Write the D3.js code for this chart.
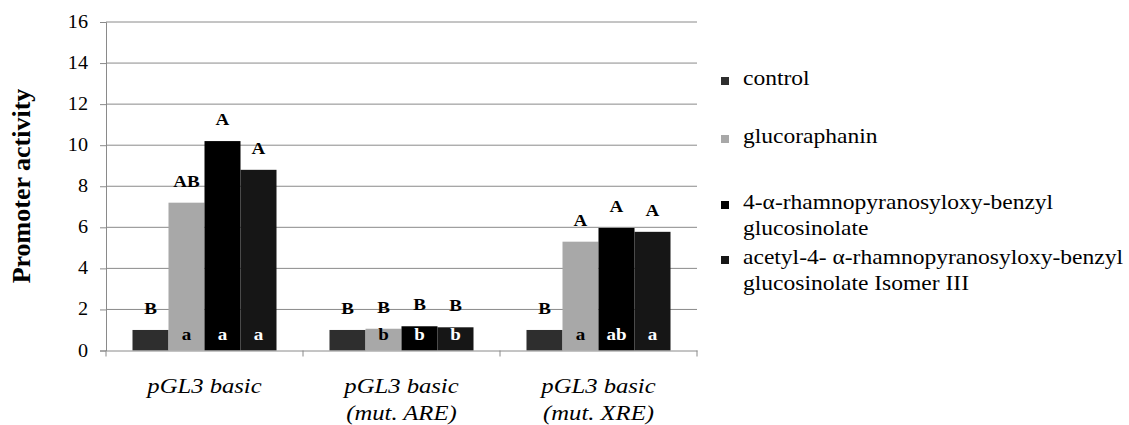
<!DOCTYPE html>
<html>
<head>
<meta charset="utf-8">
<script src="https://cdn.jsdelivr.net/npm/d3@7"></script>
<style>
  body { margin: 0; background: #fff; }
</style>
</head>
<body>
<div id="chart"></div>
<script>
const categories = [["pGL3 basic"], ["pGL3 basic", "(mut. ARE)"], ["pGL3 basic", "(mut. XRE)"]];
const series = ["control", "glucoraphanin", "4-α-rhamnopyranosyloxy-benzyl glucosinolate", "acetyl-4- α-rhamnopyranosyloxy-benzyl glucosinolate Isomer III"];
const legendLines = [["control"], ["glucoraphanin"], ["4-α-rhamnopyranosyloxy-benzyl", "glucosinolate"], ["acetyl-4-  α-rhamnopyranosyloxy-benzyl", "glucosinolate  Isomer III"]];
const colors = ["#2e2e2e", "#a8a8a8", "#000000", "#161616"];
const values = [
  [1.0, 7.2, 10.2, 8.8],
  [1.0, 1.06, 1.18, 1.13],
  [1.0, 5.3, 5.97, 5.78]
];
const upperLetters = [
  ["B", "AB", "A", "A"],
  ["B", "B", "B", "B"],
  ["B", "A", "A", "A"]
];
const lowerLetters = [
  ["", "a", "a", "a"],
  ["", "b", "b", "b"],
  ["", "a", "ab", "a"]
];
const yTicks = [0, 2, 4, 6, 8, 10, 12, 14, 16];

const serif = "'Liberation Serif', 'Times New Roman', serif";
const margin = {top: 22, right: 432, bottom: 74.5, left: 106};
const W = 1129, H = 425;
const width = W - margin.left - margin.right,
      height = H - margin.top - margin.bottom;
const sx = 1.12; // text in the picture is slightly wide

const svg = d3.select("#chart").append("svg")
    .attr("width", W).attr("height", H);
const g = svg.append("g")
    .attr("transform", `translate(${margin.left},${margin.top})`);

const x0 = d3.scaleBand().domain(d3.range(categories.length)).range([0, width]).padding(0);
const x1 = d3.scaleBand().domain(d3.range(series.length)).range([0, x0.bandwidth()])
    .paddingInner(0).paddingOuter(0.736);
const y = d3.scaleLinear().domain([0, 16]).range([height, 0]);

const stretchList = [];
function label(parent, x, yy, txt, size, anchor, maxW) {
  const t = parent.append("text")
    .attr("x", x).attr("y", yy)
    .attr("text-anchor", anchor || "start")
    .style("font-family", serif)
    .style("font-size", size + "px")
    .attr("fill", "#000")
    .text(txt);
  stretchList.push([t, maxW || Infinity]);
  return t;
}

// gridlines
g.selectAll(".grid").data(yTicks.filter(d => d > 0)).enter()
  .append("line")
  .attr("x1", 0).attr("x2", width)
  .attr("y1", d => y(d)).attr("y2", d => y(d))
  .attr("stroke", "#8a8a8a").attr("stroke-width", 1);

// y axis
const yAxis = d3.axisLeft(y).tickValues(yTicks).tickSize(6).tickFormat("");
const gy = g.append("g").call(yAxis);
gy.select(".domain").attr("stroke", "#8a8a8a");
gy.selectAll(".tick line").attr("stroke", "#8a8a8a");
yTicks.forEach(t => label(g, -18, y(t) + 6, t, 18, "end"));

// bars
const groups = g.selectAll(".grp").data(values).enter()
  .append("g").attr("transform", (d, i) => `translate(${x0(i)},0)`);

groups.selectAll("rect").data(d => d).enter()
  .append("rect")
  .attr("x", (d, j) => x1(j))
  .attr("y", d => y(d))
  .attr("width", x1.bandwidth())
  .attr("height", d => height - y(d))
  .attr("fill", (d, j) => colors[j]);

// letters above and inside bars
groups.each(function(row, i) {
  const gg = d3.select(this);
  row.forEach((v, j) => {
    const cx = x1(j) + x1.bandwidth() / 2;
    label(gg, cx, y(v) - 16, upperLetters[i][j], 17, "middle")
      .style("font-weight", "bold");
    if (lowerLetters[i][j]) {
      label(gg, cx, y(0) - 11, lowerLetters[i][j], 17, "middle")
        .style("font-weight", "bold")
        .attr("fill", j === 1 ? "#000" : "#fff");
    }
  });
});

// x axis
const xAxis = d3.axisBottom(x0).tickSize(0).tickFormat("");
const gx = g.append("g").attr("transform", `translate(0,${height})`).call(xAxis);
gx.select(".domain").attr("stroke", "#8a8a8a");
g.selectAll(".xtick").data(d3.range(categories.length + 1)).enter()
  .append("line")
  .attr("x1", d => d * x0.step()).attr("x2", d => d * x0.step())
  .attr("y1", height).attr("y2", height + 6)
  .attr("stroke", "#8a8a8a");

categories.forEach((lines, i) => {
  lines.forEach((line, k) => {
    label(g, x0(i) + x0.bandwidth() / 2, height + 42 + k * 27, line, 22, "middle")
      .style("font-style", "italic");
  });
});

// y label
svg.append("text")
  .attr("transform", `translate(30,${margin.top + 164}) rotate(-90)`)
  .attr("text-anchor", "middle")
  .style("font-family", serif)
  .style("font-size", "26px").style("font-weight", "bold")
  .text("Promoter activity");

// legend
const legendY = [81, 139, 205, 260];
const legend = svg.selectAll(".leg").data(series).enter()
  .append("g").attr("transform", (d, i) => `translate(721,${legendY[i]})`);
legend.append("rect")
  .attr("x", 0).attr("y", -4).attr("width", 8).attr("height", 8)
  .attr("fill", (d, i) => colors[i]);
legend.each(function(d, i) {
  legendLines[i].forEach((line, k) => {
    label(d3.select(this), 22, 4 + k * 26, line, 21, "start", 380);
  });
});

// widen glyphs a little, like the source picture
stretchList.forEach(([t, maxW]) => {
  const w = t.node().getComputedTextLength();
  if (w > 0) t.attr("textLength", Math.min(w * sx, maxW)).attr("lengthAdjust", "spacingAndGlyphs");
});
</script>
</body>
</html>
